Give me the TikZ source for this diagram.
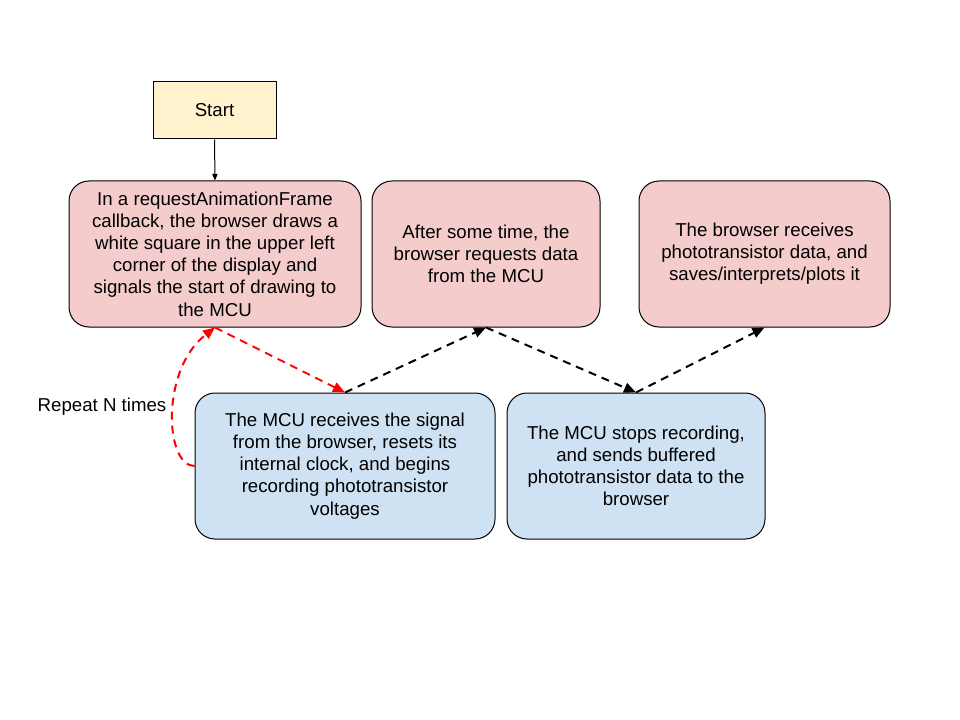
\documentclass[tikz,border=0pt]{standalone}
\usepackage{fontspec}
\setmainfont{Liberation Sans}
\usetikzlibrary{arrows.meta}
\definecolor{pinkfill}{HTML}{F4CCCC}
\definecolor{bluefill}{HTML}{CFE2F3}
\definecolor{startfill}{HTML}{FFF2CC}
\definecolor{loopred}{HTML}{FF0000}
\tikzset{
  box/.style={draw=black, line width=0.75pt, rounded corners=15pt, align=center, inner sep=0pt,
    minimum height=109.5pt, font=\fontsize{14pt}{16.6pt}\selectfont},
  pinkbox/.style={box, fill=pinkfill},
  bluebox/.style={box, fill=bluefill},
  startbox/.style={draw=black, line width=0.75pt, fill=startfill, align=center, inner sep=0pt,
    minimum width=92.25pt, minimum height=42.75pt, font=\fontsize{14pt}{16.6pt}\selectfont},
  dasharrow/.style={line width=1.5pt, dash pattern=on 6pt off 4.5pt, -{Triangle[length=9pt,width=7.5pt]}},
  thinarrow/.style={line width=0.75pt, -{Triangle[length=5pt,width=4pt]}},
  lbl/.style={font=\fontsize{14pt}{16.6pt}\selectfont, inner sep=0pt}
}
\begin{document}
\begin{tikzpicture}[x=0.75pt,y=-0.75pt]
\useasboundingbox (0,0) rectangle (960,720);
\node[startbox] (start) at (214.5,110.5) {Start};
\node[pinkbox, minimum width=219pt] (A) at (215,254) {In a requestAnimationFrame\\callback, the browser draws a\\white square in the upper left\\corner of the display and\\signals the start of drawing to\\the MCU};
\node[pinkbox, minimum width=171pt] (B) at (486,254) {After some time, the\\browser requests data\\from the MCU};
\node[pinkbox, minimum width=188.25pt] (C) at (764.5,254) {The browser receives\\phototransistor data, and\\saves/interprets/plots it};
\node[bluebox, minimum width=225pt] (D) at (345,466) {The MCU receives the signal\\from the browser, resets its\\internal clock, and begins\\recording phototransistor\\voltages};
\node[bluebox, minimum width=193.5pt] (E) at (636,466) {The MCU stops recording,\\and sends buffered\\phototransistor data to the\\browser};
\node[lbl] (rep) at (102,407) {Repeat N times};
\draw[thinarrow] (start.south) -- (A.north);
\draw[dasharrow, loopred] (A.south) -- (D.north);
\draw[dasharrow, loopred] (D.west) .. controls (165,466) and (160,370) .. (A.south);
\draw[dasharrow] (D.north) -- (B.south);
\draw[dasharrow] (B.south) -- (E.north);
\draw[dasharrow] (E.north) -- (C.south);
\end{tikzpicture}
\end{document}
